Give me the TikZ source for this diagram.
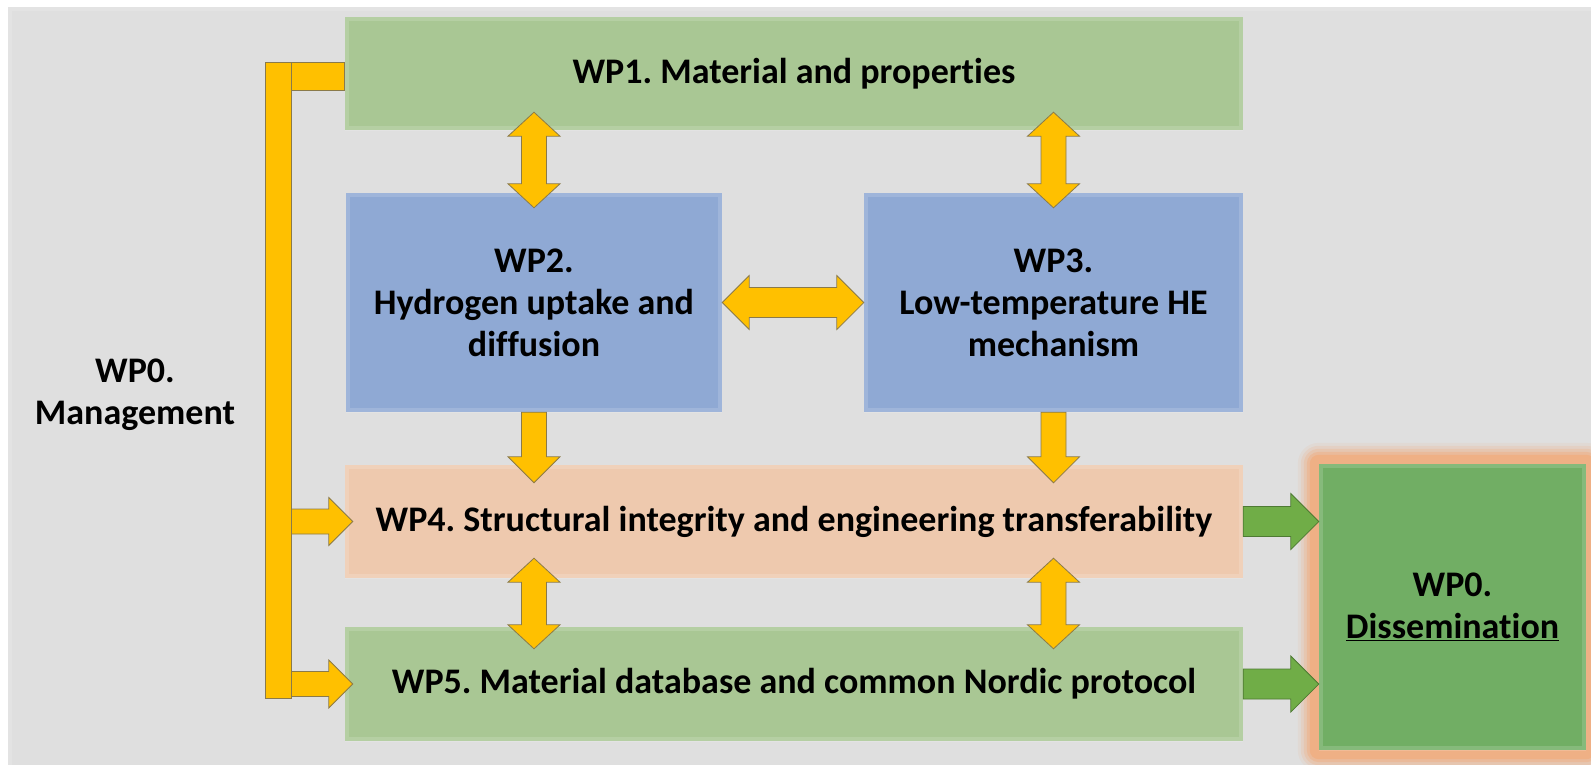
\documentclass[tikz,border=0pt]{standalone}
\usepackage{fontspec}
\setmainfont{Carlito}[Ligatures=NoCommon]
\usetikzlibrary{calc}

\definecolor{bggray}{HTML}{DFDFDF}
\definecolor{wpgreen}{HTML}{A9C794}
\definecolor{wpblue}{HTML}{8FA9D4}
\definecolor{wppeach}{HTML}{EEC9AE}
\definecolor{disgreen}{HTML}{71AE64}
\definecolor{glow}{HTML}{EFB085}
\definecolor{linkyellow}{HTML}{FFC000}
\definecolor{linkedge}{HTML}{8A7A4A}
\definecolor{outgreen}{HTML}{70AD47}
\definecolor{outedge}{HTML}{4E7A33}

\pgfdeclarelayer{background}
\pgfsetlayers{background,main}

\frenchspacing
\newcommand\wpfont{\fontsize{36}{42}\selectfont\bfseries}

% block arrow with a head at both ends: [style]{from}{to}{shaft half}{head half}{head length}
\newcommand\twoway[6][]{%
  \path (#2) coordinate (ta) (#3) coordinate (tb)
    ($(ta)!#6pt!(tb)$) coordinate (ta1)
    ($(tb)!#6pt!(ta)$) coordinate (tb1);
  \draw[#1] (ta) -- ($(ta1)!#5pt!-90:(tb)$) -- ($(ta1)!#4pt!-90:(tb)$)
    -- ($(tb1)!#4pt!90:(ta)$) -- ($(tb1)!#5pt!90:(ta)$) -- (tb)
    -- ($(tb1)!#5pt!-90:(ta)$) -- ($(tb1)!#4pt!-90:(ta)$)
    -- ($(ta1)!#4pt!90:(tb)$) -- ($(ta1)!#5pt!90:(tb)$) -- cycle;}

% block arrow with a single head at the far end
\newcommand\oneway[6][]{%
  \path (#2) coordinate (ta) (#3) coordinate (tb)
    ($(tb)!#6pt!(ta)$) coordinate (tb1);
  \draw[#1] ($(ta)!#4pt!-90:(tb)$) -- ($(tb1)!#4pt!90:(ta)$)
    -- ($(tb1)!#5pt!90:(ta)$) -- (tb) -- ($(tb1)!#5pt!-90:(ta)$)
    -- ($(tb1)!#4pt!-90:(ta)$) -- ($(ta)!#4pt!90:(tb)$) -- cycle;}

\begin{document}
\begin{tikzpicture}[x=1pt,y=-1pt,
  bevel/.style={path picture={\draw[white,opacity=.15,line width=8pt]
      (path picture bounding box.north west) rectangle (path picture bounding box.south east);}},
  wpbox/.style={rectangle,inner sep=0pt,align=center,font=\wpfont,text=black,bevel},
  ylink/.style={fill=linkyellow,draw=linkedge,line width=0.8pt,line join=miter},
  glink/.style={fill=outgreen,draw=outedge,line width=0.8pt,line join=miter},
  label/.style={align=center,font=\wpfont,text=black,inner sep=0pt}]

\useasboundingbox (0,0) rectangle (1591,764);

% work-package boxes
\node[wpbox,fill=wpgreen,minimum width=898,minimum height=113] (wp1) at (794,73.5)
  {WP1. Material and properties};
\node[wpbox,fill=wpblue,minimum width=376,minimum height=219] (wp2) at (534,302.5)
  {WP2.\\Hydrogen uptake and\\diffusion};
\node[wpbox,fill=wpblue,minimum width=379,minimum height=219] (wp3) at (1053.5,302.5)
  {WP3.\\Low-temperature HE\\mechanism};
\node[wpbox,fill=wppeach,minimum width=898,minimum height=113] (wp4) at (794,521.5)
  {WP4. Structural integrity and engineering transferability};
\node[wpbox,fill=wpgreen,minimum width=898,minimum height=114] (wp5) at (794,684)
  {WP5. Material database and common Nordic protocol};
\node[wpbox,fill=disgreen,minimum width=267,minimum height=286] (dis) at (1452.5,607)
  {WP0.\\\underline{Dissemination}};
\node[label] (mgmt) at (135,395) {WP0.\\Management};

% panel and glow behind the boxes
\begin{pgfonlayer}{background}
  \fill[bggray,bevel] (8,7) rectangle (1600,775);
  \foreach \d/\o in {21/0.12,18/0.2,15/0.3,12/0.5,9/1}
    \fill[glow,opacity=\o,rounded corners=\d pt]
      ($(dis.north west)+(-\d,-\d)$) rectangle ($(dis.south east)+(\d,\d)$);
\end{pgfonlayer}

% links between work packages
\twoway[ylink]{$(wp2.north |- wp1.south)+(0,-18)$}{$(wp2.north)+(0,15)$}{12.5}{26}{24}
\twoway[ylink]{$(wp3.north |- wp1.south)+(0,-18)$}{$(wp3.north)+(0,15)$}{12.5}{26}{24}
\twoway[ylink]{wp2.east}{wp3.west}{15}{27}{27}
\oneway[ylink]{wp2.south}{$(wp2.south |- wp4.north)+(0,18)$}{12.5}{26}{26}
\oneway[ylink]{wp3.south}{$(wp3.south |- wp4.north)+(0,18)$}{12.5}{26}{26}
\twoway[ylink]{$(wp2.south |- wp4.south)+(0,-20)$}{$(wp2.south |- wp5.north)+(0,22)$}{12.5}{26}{24}
\twoway[ylink]{$(wp3.south |- wp4.south)+(0,-20)$}{$(wp3.south |- wp5.north)+(0,22)$}{12.5}{26}{24}

% management bracket
\coordinate (bartop) at (265,62);
\coordinate (barbot) at (291,698);
\oneway[ylink]{barbot |- wp4.west}{$(wp4.west)+(8,0)$}{12.5}{24}{24}
\oneway[ylink]{barbot |- wp5.west}{$(wp5.west)+(8,0)$}{12.5}{24}{24}
\draw[ylink] (bartop -| barbot) rectangle ($(wp1.west)+(0,16.5)$);
\draw[ylink] (bartop) rectangle (barbot);

% outputs to dissemination
\oneway[glink]{wp4.east}{dis.west |- wp4.east}{15}{28}{28}
\oneway[glink]{wp5.east}{dis.west |- wp5.east}{15}{28}{28}
\end{tikzpicture}
\end{document}
